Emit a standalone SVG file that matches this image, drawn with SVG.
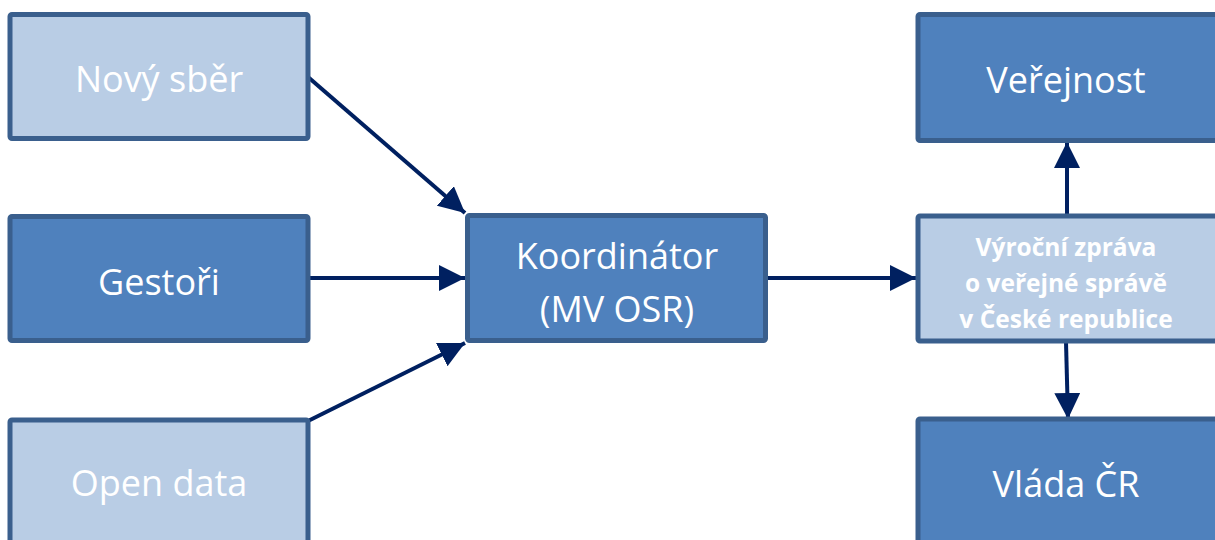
<svg xmlns="http://www.w3.org/2000/svg" width="1215" height="540" viewBox="0 0 1215 540">
<defs>
<style>
.box{stroke:#3A5F8D;stroke-width:5}
.light{fill:#B9CDE5}
.dark{fill:#4F81BD}
.t{font-family:"Open Sans","Noto Sans","Liberation Sans",sans-serif;font-size:36px;fill:#FFFFFF;text-anchor:middle}
.tb{font-family:"Open Sans","Noto Sans","Liberation Sans",sans-serif;font-size:24.5px;font-weight:bold;fill:#FFFFFF;text-anchor:middle}
.c{stroke:#002060;stroke-width:4;fill:none}
</style>
<marker id="ah" viewBox="0 0 10 10" refX="10" refY="5" markerWidth="6.5" markerHeight="6.5" markerUnits="strokeWidth" orient="auto">
<path d="M0,0 L10,5 L0,10 Z" fill="#002060"/>
</marker>
</defs>
<g id="connectors">
<line class="c" x1="308" y1="77" x2="465" y2="213" marker-end="url(#ah)"/>
<line class="c" x1="308" y1="278" x2="465" y2="278" marker-end="url(#ah)"/>
<line class="c" x1="308" y1="421" x2="465" y2="343" marker-end="url(#ah)"/>
<line class="c" x1="766" y1="278" x2="916" y2="278" marker-end="url(#ah)"/>
<line class="c" x1="1067" y1="215" x2="1067" y2="142" marker-end="url(#ah)"/>
<line class="c" x1="1066" y1="342" x2="1068" y2="419" marker-end="url(#ah)"/>
</g>
<g id="novy-sber">
<rect class="box light" x="10" y="14.5" width="298" height="124" rx="2"/>
<text class="t" x="159" y="92">Nový sběr</text>
</g>
<g id="gestori">
<rect class="box dark" x="10" y="216.5" width="298" height="124" rx="2"/>
<text class="t" x="159" y="295">Gestoři</text>
</g>
<g id="open-data">
<rect class="box light" x="10" y="420" width="298" height="140" rx="2"/>
<text class="t" x="159" y="496">Open data</text>
</g>
<g id="koordinator">
<rect class="box dark" x="467.5" y="215.5" width="298" height="125" rx="2"/>
<text class="t" x="617" y="269">Koordinátor</text>
<text class="t" x="617" y="322">(MV OSR)</text>
</g>
<g id="vyrocni-zprava">
<rect class="box light" x="918" y="216" width="310" height="125" rx="2"/>
<text class="tb" x="1066" y="256">Výroční zpráva</text>
<text class="tb" x="1066" y="292">o veřejné správě</text>
<text class="tb" x="1066" y="328">v České republice</text>
</g>
<g id="verejnost">
<rect class="box dark" x="918" y="14.5" width="310" height="126" rx="2"/>
<text class="t" x="1066" y="93">Veřejnost</text>
</g>
<g id="vlada">
<rect class="box dark" x="918" y="419" width="310" height="140" rx="2"/>
<text class="t" x="1066" y="497">Vláda ČR</text>
</g>
</svg>
